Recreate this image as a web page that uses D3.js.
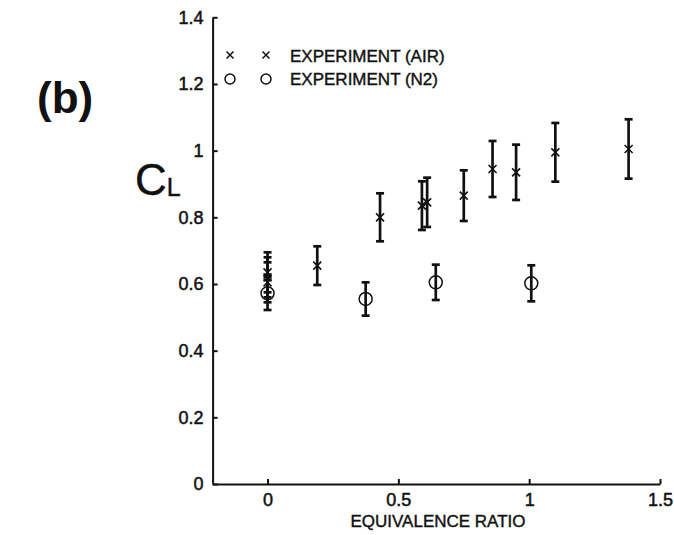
<!DOCTYPE html>
<html>
<head>
<meta charset="utf-8">
<script src="https://cdn.jsdelivr.net/npm/d3@7"></script>
<style>
  body { margin: 0; background: #fff; }
  svg { display: block; font-family: "Liberation Sans", Arial, sans-serif; }
  .axis path, .axis line { stroke: #111; stroke-width: 2; }
  .axis text { font-size: 18px; fill: #111; stroke: #111; stroke-width: 0.5; }
  .heavy { stroke: #111; stroke-width: 0.4; }
</style>
</head>
<body>
<script>
var airPhi = [0, 0, 0, 0.19, 0.43, 0.59, 0.61, 0.75, 0.86, 0.95, 1.10, 1.38];
var airCL  = [0.635, 0.62, 0.605, 0.655, 0.80, 0.835, 0.845, 0.865, 0.945, 0.935, 0.995, 1.005];
var airErr = [0.06, 0.06, 0.06, 0.058, 0.072, 0.073, 0.074, 0.076, 0.084, 0.083, 0.088, 0.089];

var n2Phi = [0, 0.375, 0.643, 1.008];
var n2CL  = [0.572, 0.555, 0.605, 0.602];
var n2Err = [0.05, 0.05, 0.053, 0.054];

var xTicks = [0, 0.5, 1, 1.5];
var yTicks = [0, 0.2, 0.4, 0.6, 0.8, 1, 1.2, 1.4];

var legendLabels = ["EXPERIMENT (AIR)", "EXPERIMENT (N2)"];

var width = 674, height = 535;

var x = d3.scaleLinear().domain([-0.21, 1.5]).range([212.6, 660]);
var y = d3.scaleLinear().domain([0, 1.4]).range([484, 17.3]);

var svg = d3
  .select("body")
  .append("svg")
  .attr("width", width)
  .attr("height", height);

// axes, ticks pointing inward
svg.append("g")
  .attr("class", "axis")
  .attr("transform", "translate(0," + y(0) + ")")
  .call(d3.axisBottom(x).tickValues(xTicks).tickSizeInner(-5).tickSizeOuter(0).tickPadding(9)
    .tickFormat(function(d) { return d3.format("")(d); }));

svg.append("g")
  .attr("class", "axis")
  .attr("transform", "translate(" + x(-0.21) + ",0)")
  .call(d3.axisLeft(y).tickValues(yTicks).tickSizeInner(-5).tickSizeOuter(0).tickPadding(9)
    .tickFormat(function(d) { return d3.format("")(d); }));

function toRows(px, py, pe) {
  return px.map(function(v, i) {
    return { phi: v, cl: py[i], err: pe[i] };
  });
}

var air = toRows(airPhi, airCL, airErr),
  n2 = toRows(n2Phi, n2CL, n2Err);

function errorBars(rows) {
  var g = svg.append("g").attr("stroke", "#111").attr("stroke-width", 2.7);
  rows.forEach(function(d) {
    var cx = x(d.phi), y0 = y(d.cl - d.err), y1 = y(d.cl + d.err);
    g.append("line").attr("x1", cx).attr("x2", cx).attr("y1", y0).attr("y2", y1);
    g.append("line").attr("x1", cx - 4).attr("x2", cx + 4).attr("y1", y0).attr("y2", y0);
    g.append("line").attr("x1", cx - 4).attr("x2", cx + 4).attr("y1", y1).attr("y2", y1);
  });
}

errorBars(air);
errorBars(n2);

function cross(cx, cy, s) {
  return "M" + (cx - s) + "," + (cy - s) + "L" + (cx + s) + "," + (cy + s) +
    "M" + (cx - s) + "," + (cy + s) + "L" + (cx + s) + "," + (cy - s);
}

svg.append("g")
  .selectAll("path")
  .data(air)
  .enter()
  .append("path")
  .attr("d", function(d) { return cross(x(d.phi), y(d.cl), 4); })
  .attr("stroke", "#111")
  .attr("stroke-width", 1.6)
  .attr("fill", "none");

svg.append("g")
  .selectAll("circle")
  .data(n2)
  .enter()
  .append("circle")
  .attr("cx", function(d) { return x(d.phi); })
  .attr("cy", function(d) { return y(d.cl); })
  .attr("r", 6.5)
  .attr("stroke", "#111")
  .attr("stroke-width", 1.5)
  .attr("fill", "none");

// legend
var legend = svg.append("g");
[230, 266].forEach(function(lx) {
  legend.append("path").attr("d", cross(lx, 55, 3.5))
    .attr("stroke", "#111").attr("stroke-width", 1.5).attr("fill", "none");
  legend.append("circle").attr("cx", lx).attr("cy", 79).attr("r", 5)
    .attr("stroke", "#111").attr("stroke-width", 1.5).attr("fill", "none");
});
legend.selectAll("text")
  .data(legendLabels)
  .enter()
  .append("text")
  .attr("class", "heavy")
  .attr("x", 290)
  .attr("y", function(d, i) { return 62 + i * 23; })
  .attr("font-size", 17)
  .attr("fill", "#111")
  .text(function(d) { return d; });

// axis titles
svg.append("text")
  .attr("class", "heavy")
  .attr("x", 438)
  .attr("y", 527)
  .attr("text-anchor", "middle")
  .attr("font-size", 17)
  .attr("fill", "#111")
  .text("EQUIVALENCE RATIO");

var cl = svg.append("text")
  .attr("x", 135)
  .attr("y", 195)
  .attr("class", "heavy")
  .attr("fill", "#111");
cl.append("tspan").attr("font-size", 44).text("C");
cl.append("tspan").attr("font-size", 25).attr("dy", 1).text("L");

svg.append("text")
  .attr("x", 37)
  .attr("y", 113)
  .attr("font-size", 44)
  .attr("font-weight", "bold")
  .attr("fill", "#111")
  .text("(b)");
</script>
</body>
</html>
